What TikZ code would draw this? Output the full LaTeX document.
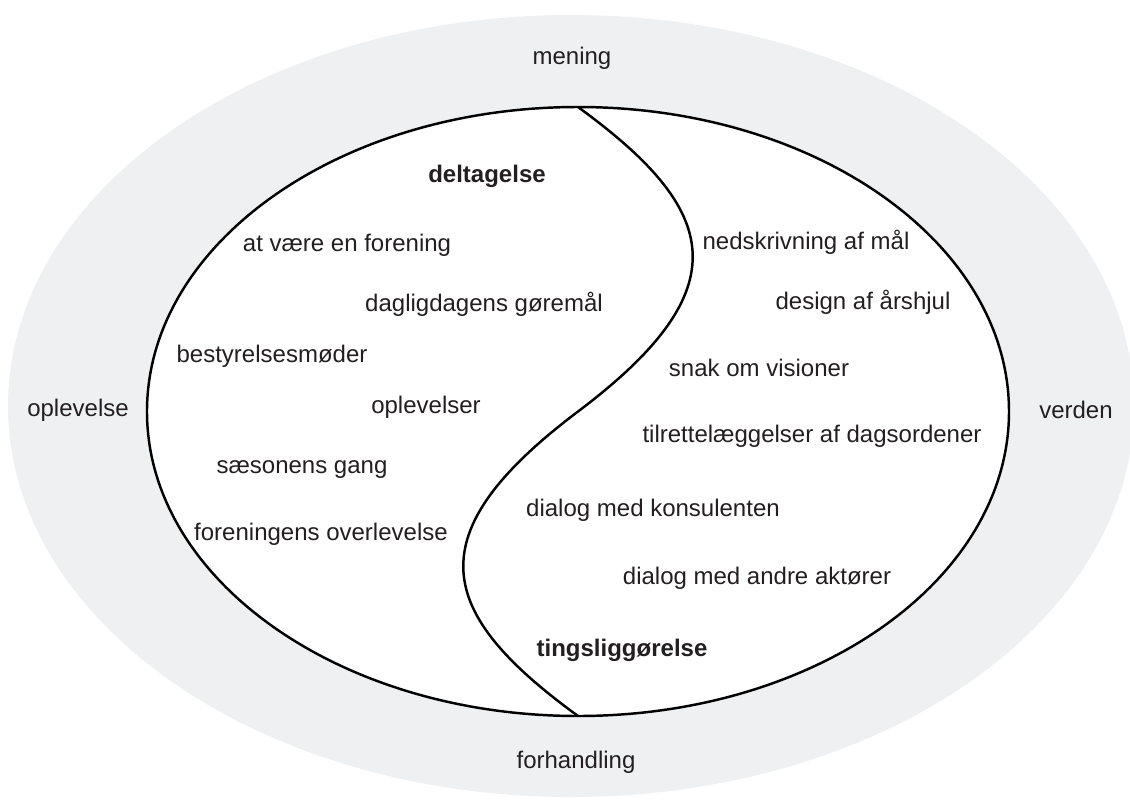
\documentclass[tikz,border=0pt]{standalone}
\usepackage{fontspec}
\setmainfont{Liberation Sans}
\definecolor{ringgray}{RGB}{239,240,242}
\definecolor{txtgray}{RGB}{35,31,32}

\begin{document}
\begin{tikzpicture}[line width=1.4pt,
	lbl/.style={text=txtgray, font=\fontsize{13.66}{16}\selectfont, inner sep=0pt},
	lblbold/.style={lbl, font=\fontsize{13.66}{16}\selectfont\bfseries}]
	%frame
	\useasboundingbox (-11.56, -7.75) rectangle (11.04, 8.23);
	%outer ring
	\fill[ringgray] (-0.14, 0.11) ellipse [x radius=11.26, y radius=7.82];
	%inner ellipse
	\draw[fill=white] (0, 0) ellipse [x radius=8.62, y radius=6.09];
	%s-curve
	\draw (0, 6.09) .. controls (2.83, 4.03) and (3.28, 2.47) .. (0, 0)
		.. controls (-3.28, -2.47) and (-2.83, -4.03) .. (0, -6.09);
	%ring labels
	\node[lbl] (mening) at (-0.12, 7.07) {mening};
	\node[lbl] (forhandling) at (-0.04, -7.01) {forhandling};
	\node[lbl] (oplevelse) at (-10.0, 0.03) {oplevelse};
	\node[lbl] (verden) at (9.96, 0.03) {verden};
	%left half
	\node[lblbold] (deltagelse) at (-1.82, 4.71) {deltagelse};
	\node[lbl] (forening) at (-4.62, 3.33) {at være en forening};
	\node[lbl] (goeremaal) at (-1.88, 2.15) {dagligdagens gøremål};
	\node[lbl] (bestyrelse) at (-6.12, 1.11) {bestyrelsesmøder};
	\node[lbl] (oplevelser) at (-3.04, 0.09) {oplevelser};
	\node[lbl] (saeson) at (-5.52, -1.17) {sæsonens gang};
	\node[lbl] (overlevelse) at (-5.14, -2.45) {foreningens overlevelse};
	%right half
	\node[lbl] (maal) at (4.56, 3.39) {nedskrivning af mål};
	\node[lbl] (aarshjul) at (5.7, 2.19) {design af årshjul};
	\node[lbl] (visioner) at (3.62, 0.87) {snak om visioner};
	\node[lbl] (dagsorden) at (4.68, -0.49) {tilrettelæggelser af dagsordener};
	\node[lbl] (konsulent) at (1.5, -1.97) {dialog med konsulenten};
	\node[lbl] (aktoerer) at (3.58, -3.33) {dialog med andre aktører};
	\node[lblbold] (tingslig) at (0.88, -4.77) {tingsliggørelse};
\end{tikzpicture}
\end{document}
